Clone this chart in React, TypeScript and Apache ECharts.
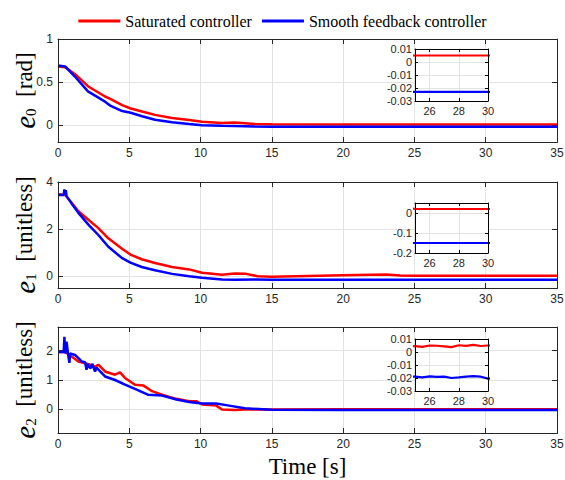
import React, { useEffect, useRef } from 'react';
import * as echarts from 'echarts';

// ---------- data ----------
const legendNames = ['Saturated controller', 'Smooth feedback controller'];

const mainXTicks = [0, 5, 10, 15, 20, 25, 30, 35];
const insetXTicks = [26, 28, 30];
const e0YTicks = [0, 0.5, 1];
const e1YTicks = [0, 2, 4];
const e2YTicks = [0, 1, 2];
const inset0YTicks = [-0.03, -0.02, -0.01, 0, 0.01];
const inset1YTicks = [-0.2, -0.1, 0];
const inset2YTicks = [-0.03, -0.02, -0.01, 0, 0.01];

// e0 [rad]
const e0Time = [0, 0.5, 1.2, 2.1, 3.3, 3.7, 4.5, 5.1, 5.9, 6.8, 8.0, 9.2, 10.1, 11.5, 12.4, 13.8, 15, 20, 25, 30, 35];
const e0Sat = [0.68, 0.67, 0.59, 0.45, 0.33, 0.3, 0.23, 0.19, 0.155, 0.116, 0.08, 0.055, 0.035, 0.02, 0.027, 0.01, 0.006, 0.005, 0.005, 0.005, 0.005];
const e0Smooth = [0.69, 0.68, 0.56, 0.39, 0.27, 0.22, 0.16, 0.14, 0.1, 0.06, 0.03, 0.01, -0.004, -0.012, -0.015, -0.02, -0.022, -0.023, -0.023, -0.023, -0.023];

// e1 [unitless]
const e1SatTime = [0, 0.5, 0.96, 1.43, 2.13, 2.83, 3.53, 4.47, 5.08, 5.87, 6.8, 8.0, 9.2, 10.1, 11.5, 12.4, 13.2, 14, 15, 20, 23, 24, 25, 30, 35];
const e1Sat = [3.48, 3.45, 3.12, 2.76, 2.4, 2.04, 1.61, 1.18, 0.92, 0.72, 0.56, 0.39, 0.29, 0.15, 0.06, 0.12, 0.1, 0.0, -0.02, 0.04, 0.07, 0.03, 0.02, 0.02, 0.02];
const e1SmoothTime = [0, 0.4, 0.45, 0.5, 0.55, 0.6, 0.96, 1.43, 2.13, 2.83, 3.53, 4.47, 5.08, 5.87, 6.8, 8.0, 9.2, 10.1, 11.5, 12.4, 13.8, 15, 20, 25, 30, 35];
const e1Smooth = [3.45, 3.45, 3.69, 3.45, 3.65, 3.4, 3.08, 2.69, 2.19, 1.75, 1.25, 0.78, 0.58, 0.39, 0.25, 0.1, 0.0, -0.06, -0.14, -0.15, -0.14, -0.15, -0.15, -0.15, -0.15, -0.15];

// e2 [unitless]
const e2SatTime = [0, 0.5, 0.96, 1.43, 1.9, 2.37, 2.6, 2.83, 3.3, 4.0, 4.35, 4.7, 5.4, 6.0, 6.6, 7.3, 8.3, 9.2, 9.7, 10.1, 11.1, 11.5, 12.4, 13.1, 15, 20, 25, 25.5, 26, 26.5, 27, 27.5, 28, 28.5, 29, 29.5, 30, 35];
const e2Sat = [1.95, 1.95, 1.8, 1.63, 1.57, 1.5, 1.45, 1.52, 1.29, 1.18, 1.26, 1.07, 0.84, 0.81, 0.62, 0.5, 0.36, 0.28, 0.28, 0.17, 0.13, 0.0, -0.02, 0.0, 0.0, 0.004, 0.0045, 0.004, 0.005, 0.0048, 0.0043, 0.0038, 0.0052, 0.0047, 0.0055, 0.0046, 0.005, 0.005];
const e2SmoothTime = [0, 0.4, 0.45, 0.5, 0.6, 0.7, 0.8, 0.85, 1.2, 1.66, 1.9, 2.0, 2.1, 2.13, 2.3, 2.4, 2.6, 2.7, 3.3, 4.0, 4.7, 5.4, 6.3, 7.3, 8.3, 9.2, 10.1, 11.1, 12, 13.1, 15, 20, 25, 25.5, 26, 26.5, 27, 27.5, 28, 28.5, 29, 29.5, 30, 35];
const e2Smooth = [1.95, 1.95, 2.47, 1.9, 2.3, 1.9, 1.58, 1.9, 1.85, 1.63, 1.6, 1.35, 1.55, 1.46, 1.4, 1.55, 1.29, 1.42, 1.12, 1.0, 0.84, 0.7, 0.5, 0.47, 0.34, 0.25, 0.2, 0.2, 0.13, 0.04, -0.01, -0.019, -0.019, -0.0195, -0.0188, -0.0192, -0.019, -0.02, -0.0195, -0.0189, -0.0186, -0.019, -0.0205, -0.02];

// ---------- styling ----------
const SANS = "'Liberation Sans', Arial, Helvetica, sans-serif";
const SERIF = "'Liberation Serif', 'Times New Roman', serif";
const AX = '#262626';
const GRIDC = '#e3e3e3';
const RED = '#ff0000';
const BLUE = '#0000ff';

const mainGrids = [
  { left: 58, top: 39, width: 499, height: 103 },
  { left: 58, top: 182, width: 499, height: 106 },
  { left: 58, top: 327, width: 499, height: 106 },
];
const insetGrids = [
  { left: 415, top: 49, width: 73, height: 52 },
  { left: 415, top: 203, width: 73, height: 50 },
  { left: 415, top: 339, width: 73, height: 52 },
];

const mainYRanges = [
  { min: -0.2, max: 1, ticks: e0YTicks, name: '{e|e}{s|0}{u|  [rad]}' },
  { min: -0.5, max: 4, ticks: e1YTicks, name: '{e|e}{s|1}{u|  [unitless]}' },
  { min: -0.8, max: 2.8, ticks: e2YTicks, name: '{e|e}{s|2}{u|  [unitless]}' },
];
const insetYRanges = [
  { min: -0.03, max: 0.01, ticks: inset0YTicks },
  { min: -0.2, max: 0.05, ticks: inset1YTicks },
  { min: -0.03, max: 0.01, ticks: inset2YTicks },
];

const zip = (t: number[], v: number[]) => t.map((x, i) => [x, v[i]]);

const curves = [
  [zip(e0Time, e0Sat), zip(e0Time, e0Smooth)],
  [zip(e1SatTime, e1Sat), zip(e1SmoothTime, e1Smooth)],
  [zip(e2SatTime, e2Sat), zip(e2SmoothTime, e2Smooth)],
];

const innerTicks = (ticks: number[], min: number, max: number) =>
  ticks.filter((v) => v > min + 1e-9 && v < max - 1e-9);

function buildOption() {
  const grid: any[] = [];
  const xAxis: any[] = [];
  const yAxis: any[] = [];
  const series: any[] = [];

  mainGrids.forEach((g) => grid.push({ ...g, show: false, containLabel: false, outerBoundsMode: 'none' }));
  insetGrids.forEach((g) => grid.push({
    ...g, show: true, borderWidth: 0, backgroundColor: '#fff', z: 5, containLabel: false, outerBoundsMode: 'none',
  }));

  const addAxes = (
    gi: number, xr: { min: number; max: number; ticks: number[] }, yr: { min: number; max: number; ticks: number[] },
    opts: { color: string; tickLen: number; fontSize: number; zBase: number; xName?: any; yName?: any; yMargin: number; xMargin: number },
  ) => {
    const xIn = innerTicks(xr.ticks, xr.min, xr.max);
    const yIn = innerTicks(yr.ticks, yr.min, yr.max);
    const hidden = { axisLine: { show: false, onZero: false }, axisLabel: { show: false } };
    xAxis.push({
      type: 'value', gridIndex: gi, min: xr.min, max: xr.max, position: 'bottom', z: opts.zBase, ...hidden,
      axisTick: { show: false, customValues: xIn },
      splitLine: { show: true, lineStyle: { color: GRIDC, width: 1 } },
    });
    yAxis.push({
      type: 'value', gridIndex: gi, min: yr.min, max: yr.max, position: 'left', z: opts.zBase, ...hidden,
      axisTick: { show: false, customValues: yIn },
      splitLine: { show: true, lineStyle: { color: GRIDC, width: 1 } },
    });
    const line = { show: true, onZero: false, lineStyle: { color: opts.color, width: 1 } };
    const tickX = { show: true, inside: true, length: opts.tickLen, lineStyle: { color: opts.color, width: 1 }, customValues: xIn };
    const tickY = { show: true, inside: true, length: opts.tickLen, lineStyle: { color: opts.color, width: 1 }, customValues: yIn };
    const xi = xAxis.length;
    xAxis.push({
      type: 'value', gridIndex: gi, min: xr.min, max: xr.max, position: 'bottom', z: opts.zBase + 2,
      axisLine: line, axisTick: tickX, splitLine: { show: false },
      axisLabel: { color: AX, fontFamily: SANS, fontSize: opts.fontSize, margin: opts.xMargin, customValues: xr.ticks },
      ...(opts.xName || {}),
    });
    xAxis.push({
      type: 'value', gridIndex: gi, min: xr.min, max: xr.max, position: 'top', z: opts.zBase + 2,
      axisLine: line, axisTick: tickX, splitLine: { show: false }, axisLabel: { show: false },
    });
    const yi = yAxis.length;
    yAxis.push({
      type: 'value', gridIndex: gi, min: yr.min, max: yr.max, position: 'left', z: opts.zBase + 2,
      axisLine: line, axisTick: tickY, splitLine: { show: false },
      axisLabel: { color: AX, fontFamily: SANS, fontSize: opts.fontSize, margin: opts.yMargin, customValues: yr.ticks },
      ...(opts.yName || {}),
    });
    yAxis.push({
      type: 'value', gridIndex: gi, min: yr.min, max: yr.max, position: 'right', z: opts.zBase + 2,
      axisLine: line, axisTick: tickY, splitLine: { show: false }, axisLabel: { show: false },
    });
    return { x: xi, y: yi };
  };

  const mainAxes = mainGrids.map((_, i) => {
    const yr = mainYRanges[i];
    return addAxes(i, { min: 0, max: 35, ticks: mainXTicks }, yr, {
      color: AX, tickLen: 5, fontSize: 12, zBase: 0, xMargin: 5, yMargin: 5,
      xName: i === 2 ? {
        name: 'Time [s]', nameLocation: 'middle', nameGap: 22,
        nameTextStyle: { fontFamily: SERIF, fontSize: 23, color: '#000' },
      } : undefined,
      yName: {
        name: yr.name, nameLocation: 'middle', nameRotate: 90, nameGap: 19, nameMoveOverlap: false,
        nameTextStyle: {
          fontFamily: SERIF,
          rich: {
            e: { fontFamily: SERIF, fontStyle: 'italic', fontSize: 29, color: '#000' },
            s: { fontFamily: SERIF, fontSize: 15, color: '#000', padding: [12, 0, 0, 0] },
            u: { fontFamily: SERIF, fontSize: 23, color: '#000' },
          },
        },
      },
    });
  });
  const insetAxes = insetGrids.map((_, k) =>
    addAxes(3 + k, { min: 25, max: 30, ticks: insetXTicks }, insetYRanges[k], {
      color: '#000', tickLen: 3, fontSize: 11, zBase: 6, xMargin: 4, yMargin: 3,
    }),
  );

  const colors = [RED, BLUE];
  curves.forEach((pair, i) => {
    pair.forEach((data, j) => {
      series.push({
        type: 'line', name: legendNames[j], data, xAxisIndex: mainAxes[i].x, yAxisIndex: mainAxes[i].y,
        symbol: 'none', showSymbol: false, clip: true, silent: true, z: 3 + j * 0.1,
        lineStyle: { color: colors[j], width: 2.5 }, itemStyle: { color: colors[j] },
      });
    });
  });
  curves.forEach((pair, k) => {
    pair.forEach((data, j) => {
      series.push({
        type: 'line', name: legendNames[j], data, xAxisIndex: insetAxes[k].x, yAxisIndex: insetAxes[k].y,
        symbol: 'none', showSymbol: false, clip: true, silent: true, z: 7,
        lineStyle: { color: colors[j], width: 2.2 }, itemStyle: { color: colors[j] },
      });
    });
  });

  const frames = mainGrids.map((g) => ({
    type: 'rect', silent: true, z: 4,
    shape: { x: g.left + 0.5, y: g.top + 0.5, width: g.width, height: g.height },
    style: { fill: 'none', stroke: AX, lineWidth: 1 },
  }));

  return {
    animation: false,
    backgroundColor: '#fff',
    textStyle: { fontFamily: SANS },
    legend: {
      data: legendNames, top: 8, left: 'center', icon: 'rect',
      itemWidth: 42, itemHeight: 3, itemGap: 10,
      textStyle: { fontFamily: SERIF, fontSize: 16, color: '#000' },
    },
    graphic: { elements: frames },
    grid, xAxis, yAxis, series,
  };
}

export default function App() {
  const ref = useRef<HTMLDivElement>(null);
  useEffect(() => {
    if (!ref.current) return;
    const chart = echarts.init(ref.current, undefined, { renderer: 'svg' });
    chart.setOption(buildOption() as any);
    return () => chart.dispose();
  }, []);
  return <div ref={ref} style={{ position: 'absolute', left: 0, top: 0, width: 565, height: 480 }} />;
}
